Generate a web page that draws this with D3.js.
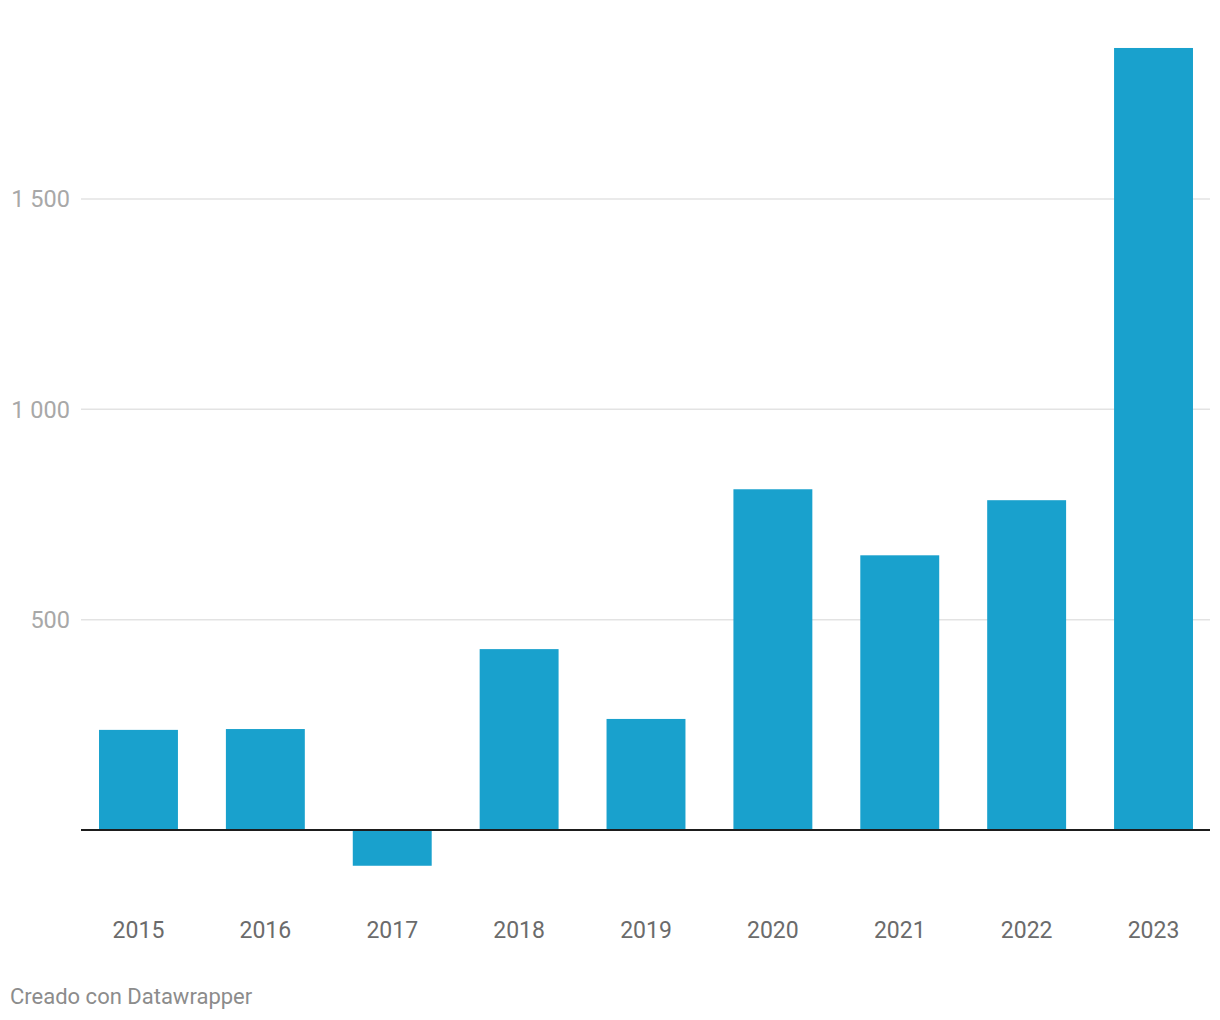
<!DOCTYPE html>
<html><head><meta charset="utf-8">
<script src="https://cdn.jsdelivr.net/npm/d3@7"></script>
<style>
html,body{margin:0;padding:0;background:#fff;}
svg{display:block;font-family:Roboto,"Noto Sans",sans-serif;}
</style></head>
<body>
<svg id="chart" width="1220" height="1020"></svg>
<script>
const years = ["2015","2016","2017","2018","2019","2020","2021","2022","2023"];
const values = [238, 240, -85, 430, 264, 810, 653, 784, 1859];
const yTicks = [500, 1000, 1500];
const yTickLabels = ["500", "1 000", "1 500"];
const footer = "Creado con Datawrapper";

const svg = d3.select("#chart");
const x = d3.scaleBand().domain(years).range([81, 1211]).paddingInner(0.378).paddingOuter(0.142);
const y = d3.scaleLinear().domain([0, 1500]).range([830, 199]);

// gridlines
svg.append("g").selectAll("line").data(yTicks).join("line")
  .attr("x1", 81).attr("x2", 1210)
  .attr("y1", d => y(d)).attr("y2", d => y(d))
  .attr("stroke", "#e3e3e3").attr("stroke-width", 1.5);

svg.append("g").selectAll("text").data(yTicks).join("text")
  .attr("x", 70).attr("y", d => y(d)).attr("dy", "0.35em")
  .attr("text-anchor", "end").attr("font-size", 23.5).attr("fill", "#a8a8a8")
  .text((d, i) => yTickLabels[i]);

// bars
svg.append("g").selectAll("rect").data(years).join("rect")
  .attr("x", d => x(d)).attr("width", x.bandwidth())
  .attr("y", (d, i) => y(Math.max(0, values[i])))
  .attr("height", (d, i) => Math.abs(y(values[i]) - y(0)))
  .attr("fill", "#19a1cd");

// baseline
svg.append("line").attr("x1", 81).attr("x2", 1210)
  .attr("y1", y(0)).attr("y2", y(0))
  .attr("stroke", "#1d1d1d").attr("stroke-width", 2);

// x labels
const xAxis = d3.axisBottom(x).tickSize(0).tickPadding(0);
const gx = svg.append("g").attr("transform", "translate(0,930)").call(xAxis);
gx.select(".domain").remove();
gx.selectAll("text").attr("dy", "0.35em").attr("y", 0)
  .attr("font-size", 23).attr("fill", "#6b6b6b").attr("font-family", "Roboto, sans-serif");

svg.append("text").attr("x", 10).attr("y", 1004)
  .attr("font-size", 22).attr("fill", "#8c8c8c").text(footer);
</script>
</body></html>
